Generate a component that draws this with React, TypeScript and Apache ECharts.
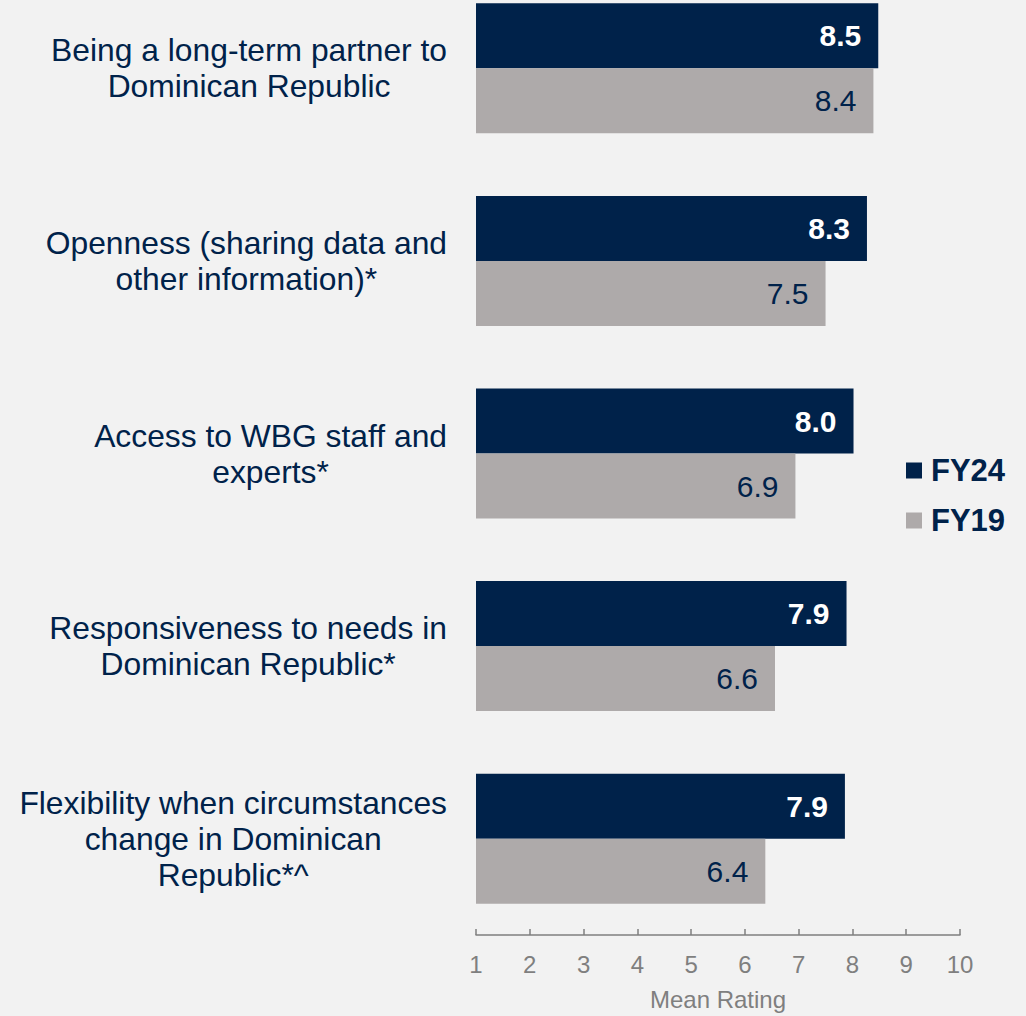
import React, { useEffect, useRef } from "react";
import * as echarts from "echarts";

const categories = [
  "Being a long-term partner to\nDominican Republic",
  "Openness (sharing data and\nother information)*",
  "Access to WBG staff and\nexperts*",
  "Responsiveness to needs in\nDominican Republic*",
  "Flexibility when circumstances\nchange in Dominican\nRepublic*^",
];
const fy24 = [8.48, 8.27, 8.02, 7.89, 7.86];
const fy19 = [8.39, 7.5, 6.94, 6.56, 6.38];
const xTicks = [1, 2, 3, 4, 5, 6, 7, 8, 9, 10];

const NAVY = "#00224A";
const GRAY = "#AEAAAA";
const FONT = "'Liberation Sans', Arial, sans-serif";
const SHIFT = 28;

export default function App() {
  const ref = useRef<HTMLDivElement>(null);
  useEffect(() => {
    document.body.style.margin = "0";
    document.body.style.background = "#F2F2F2";
    document.body.style.overflow = "hidden";
    const chart = echarts.init(ref.current!, null, { renderer: "svg" });
    chart.setOption({
      animation: false,
      backgroundColor: "#F2F2F2",
      textStyle: { fontFamily: FONT },
      legend: {
        orient: "vertical",
        left: 906,
        top: 455 + SHIFT,
        padding: 0,
        itemWidth: 16,
        itemHeight: 16,
        itemGap: 19,
        icon: "rect",
        data: ["FY24", "FY19"],
        textStyle: {
          color: NAVY,
          fontSize: 31,
          fontWeight: "bold",
          fontFamily: FONT,
          padding: [0, 0, 0, 4],
        },
      },
      grid: { left: 476, right: 66, top: 0, bottom: 77 },
      xAxis: {
        type: "value",
        min: xTicks[0],
        max: xTicks[xTicks.length - 1],
        interval: 1,
        name: "Mean Rating",
        nameLocation: "middle",
        nameGap: 52,
        nameTextStyle: { color: "#7F7F7F", fontSize: 24, fontFamily: FONT },
        axisLine: { show: true, lineStyle: { color: "#7F7F7F", width: 1.5 } },
        axisTick: { show: true, inside: true, length: 6, lineStyle: { color: "#7F7F7F", width: 1.5 } },
        splitLine: { show: false },
        axisLabel: { color: "#7F7F7F", fontSize: 24, margin: 17, fontFamily: FONT },
      },
      yAxis: {
        type: "category",
        inverse: true,
        data: categories,
        axisLine: { show: false },
        axisTick: { show: false },
        axisLabel: {
          margin: 29,
          color: NAVY,
          fontSize: 31.8,
          lineHeight: 36,
          fontFamily: FONT,
          formatter: (v: string) =>
            v
              .split("\n")
              .map((l) => `{c|${l}}`)
              .join("\n"),
          rich: {
            c: { align: "center", color: NAVY, fontSize: 31.8, lineHeight: 36, fontFamily: FONT },
          },
        },
      },
      series: [
        {
          name: "FY24",
          type: "bar",
          data: fy24,
          barWidth: 65,
          barGap: "0%",
          itemStyle: { color: NAVY },
          label: {
            show: true,
            position: "insideRight",
            distance: 17,
            color: "#FFFFFF",
            fontWeight: "bold",
            fontSize: 30,
            fontFamily: FONT,
            formatter: (p: any) => p.value.toFixed(1),
          },
        },
        {
          name: "FY19",
          type: "bar",
          data: fy19,
          barWidth: 65,
          barGap: "0%",
          itemStyle: { color: GRAY },
          label: {
            show: true,
            position: "insideRight",
            distance: 17,
            color: NAVY,
            fontSize: 30,
            fontFamily: FONT,
            formatter: (p: any) => p.value.toFixed(1),
          },
        },
      ],
    });
    return () => chart.dispose();
  }, []);
  return <div ref={ref} style={{ width: 1026, height: 1016 + SHIFT, marginTop: -SHIFT }} />;
}
